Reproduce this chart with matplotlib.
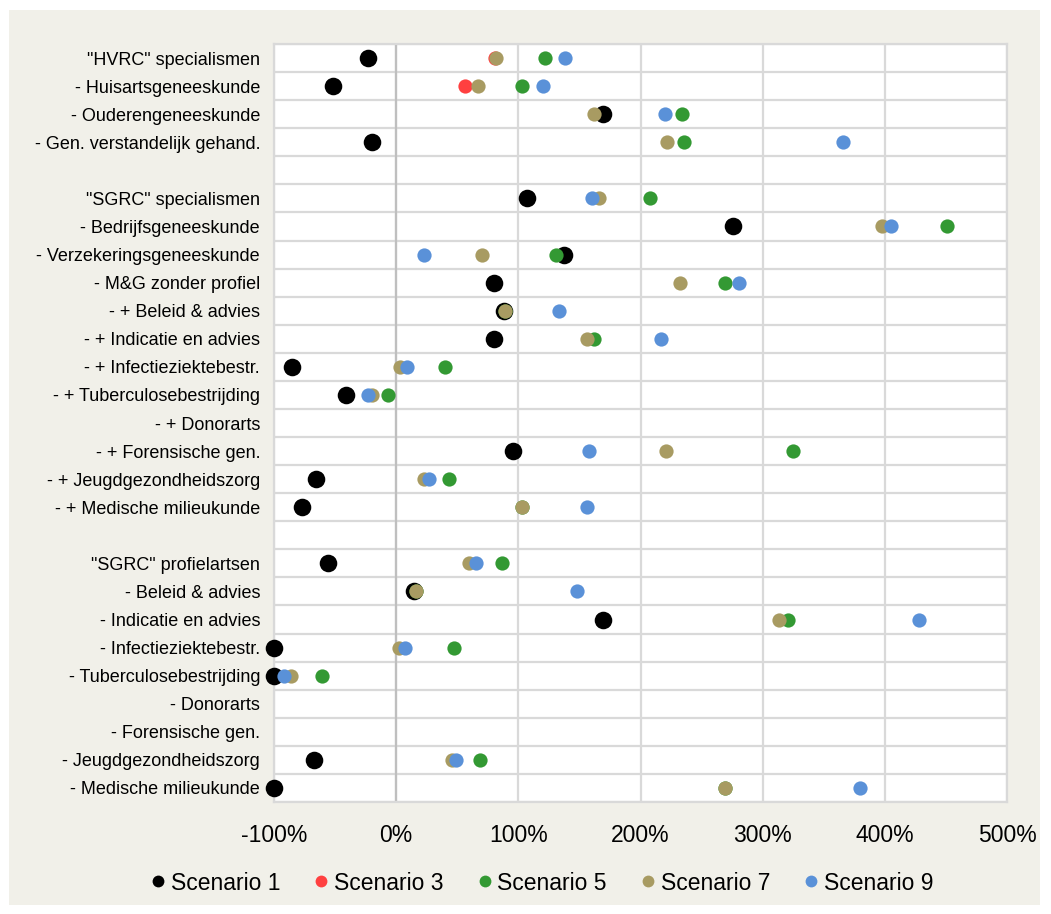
import numpy as np
import matplotlib.pyplot as plt
from matplotlib.patches import Rectangle
from matplotlib.lines import Line2D
from matplotlib.ticker import FuncFormatter

plt.rcParams['font.family'] = ['Liberation Sans', 'DejaVu Sans']

categories = [
    '"HVRC" specialismen',
    '- Huisartsgeneeskunde',
    '- Ouderengeneeskunde',
    '- Gen. verstandelijk gehand.',
    '',
    '"SGRC" specialismen',
    '- Bedrijfsgeneeskunde',
    '- Verzekeringsgeneeskunde',
    '- M&G zonder profiel',
    '- + Beleid & advies',
    '- + Indicatie en advies',
    '- + Infectieziektebestr.',
    '- + Tuberculosebestrijding',
    '- + Donorarts',
    '- + Forensische gen.',
    '- + Jeugdgezondheidszorg',
    '- + Medische milieukunde',
    '',
    '"SGRC" profielartsen',
    '- Beleid & advies',
    '- Indicatie en advies',
    '- Infectieziektebestr.',
    '- Tuberculosebestrijding',
    '- Donorarts',
    '- Forensische gen.',
    '- Jeugdgezondheidszorg',
    '- Medische milieukunde',
]

nan = np.nan
# values in percent, one per category (top to bottom)
scenario_1 = [-23, -52, 169, -20, nan, 107, 276, 137, 80, 88, 80, -85, -41, nan, 96, -66, -77,
              nan, -56, 15, 169, -100, -100, nan, nan, -67, -100]
scenario_3 = [81, 56, nan, nan, nan, nan, nan, nan, nan, nan, nan, nan, nan, nan, nan, nan, nan,
              nan, nan, nan, nan, nan, nan, nan, nan, nan, nan]
scenario_5 = [122, 103, 234, 236, nan, 208, 451, 131, 269, 89, 162, 40, -7, nan, 325, 43, 103,
              nan, 87, 16, 321, 47, -61, nan, nan, 69, 269]
scenario_7 = [82, 67, 162, 222, nan, 166, 398, 70, 232, 89, 156, 3, -20, nan, 221, 23, 103,
              nan, 60, 16, 313, 2, -86, nan, nan, 46, 269]
scenario_9 = [138, 120, 220, 366, nan, 160, 405, 23, 281, 133, 217, 9, -23, nan, 158, 27, 156,
              nan, 65, 148, 428, 7, -92, nan, nan, 49, 380]

series_names = ['Scenario 1', 'Scenario 3', 'Scenario 5', 'Scenario 7', 'Scenario 9']
series_values = [scenario_1, scenario_3, scenario_5, scenario_7, scenario_9]
colors = ['#000000', '#FF4040', '#339933', '#A89B62', '#5A91D8']
sizes = [160, 105, 105, 105, 105]

fig = plt.figure(figsize=(10.51, 9.14), dpi=100, facecolor='white')
# beige chart area
fig.patches.append(Rectangle((9 / 1051, 9 / 914), 1031 / 1051, 895 / 914,
                             transform=fig.transFigure, facecolor='#F1F0E9',
                             edgecolor='none', zorder=-10))

ax = fig.add_axes([274 / 1051, 1 - 802 / 914, 733 / 1051, 758 / 914])
ax.set_facecolor('white')

y = np.arange(len(categories))
for i, (name, vals) in enumerate(zip(series_names, series_values)):
    ax.scatter(vals, y, s=sizes[i], color=colors[i], linewidths=0,
               zorder=3 + i, clip_on=False, label=name)

ax.set_xlim(-100, 500)
ax.set_ylim(len(categories) - 0.5, -0.5)
ax.set_xticks(range(-100, 501, 100))
ax.xaxis.set_major_formatter(FuncFormatter(lambda v, p: f'{v:.0f}%'))
ax.set_yticks(y)
ax.set_yticklabels(categories)
ax.set_yticks(np.arange(-0.5, len(categories), 1), minor=True)

ax.tick_params(axis='x', length=0, pad=16, labelsize=16.5, colors='black')
ax.tick_params(axis='y', which='both', length=0, pad=10, labelsize=13, colors='black')

ax.grid(axis='x', which='major', color='#D9D9D9', linewidth=1.6, zorder=0)
ax.grid(axis='y', which='minor', color='#D9D9D9', linewidth=1.6, zorder=0)
ax.grid(axis='y', which='major', visible=False)
ax.axvline(0, color='#BFBFBF', linewidth=1.6, zorder=1)
ax.set_axisbelow(True)
for s in ax.spines.values():
    s.set_color('#D9D9D9')
    s.set_linewidth(1.6)

handles = [Line2D([], [], marker='o', linestyle='none', markersize=8.5,
                  markerfacecolor=c, markeredgewidth=0) for c in colors]
fig.legend(handles, series_names, loc='center', bbox_to_anchor=(0.516, 1 - 883 / 914),
           ncol=5, frameon=False, fontsize=16.5, handlelength=0.6,
           handletextpad=0.25, columnspacing=1.5)

plt.savefig('out.png', dpi=100, facecolor=fig.get_facecolor())
